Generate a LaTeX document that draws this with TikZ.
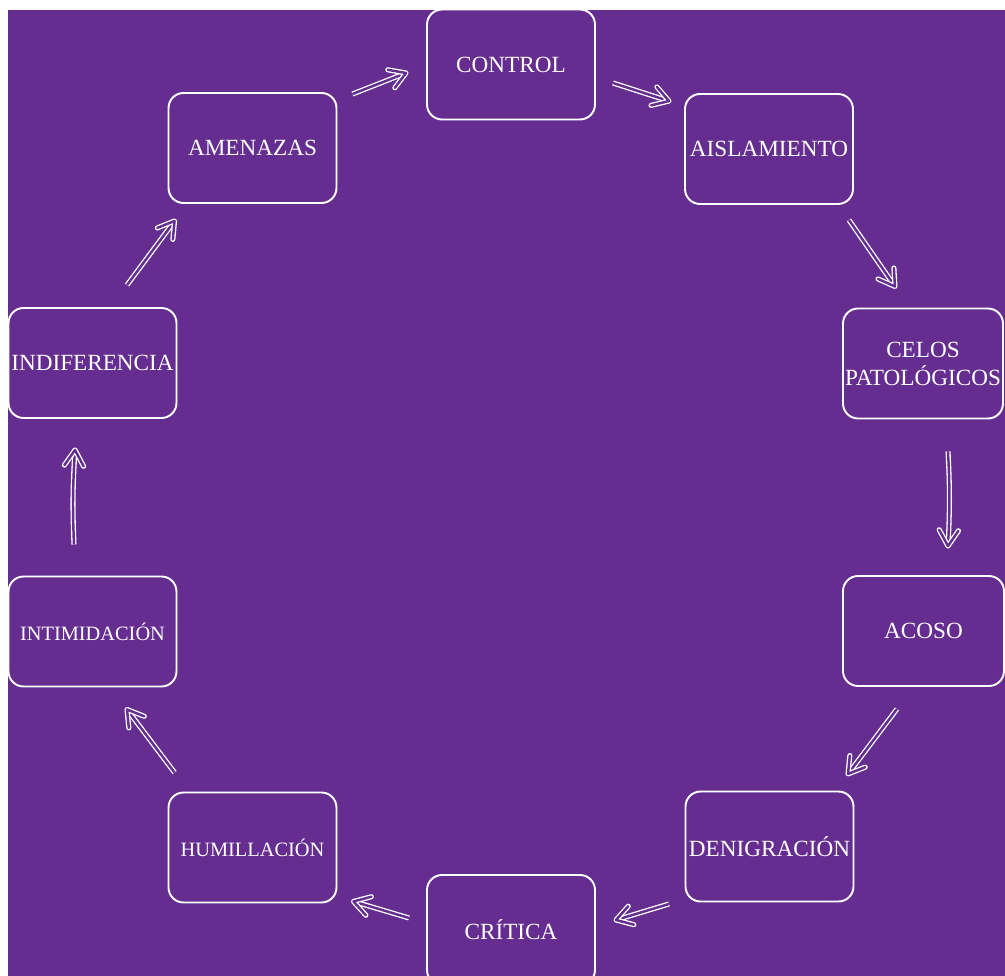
\documentclass[tikz,border=0pt]{standalone}
\usepackage{fontspec}
\setmainfont{Liberation Serif}
\usetikzlibrary{decorations.markings}
\definecolor{morado}{HTML}{652D90}
\begin{document}
\begin{tikzpicture}[x=0.02cm, y=-0.02cm,
		etapa/.style={draw=white, line width=1.1pt, rounded corners=0.3cm,
			minimum width=3.36cm, minimum height=2.2cm, inner sep=0pt,
			text depth=0pt, text=white, align=center,
			font=\fontsize{13.2}{16}\selectfont},
		chica/.style={font=\fontsize{11.6}{14}\selectfont},
		doble/.style={draw=white, double=morado, line width=0.75pt,
			double distance=1.4pt},
		flecha/.style={doble, postaction={decorate},
			decoration={markings, mark=at position 1 with
				{\draw[doble, line join=round, line cap=round]
					(-9pt, 5.5pt) -- (0pt, 0pt) -- (-9pt, -5.5pt);}}}]
		\useasboundingbox (0, 0) rectangle (1005, 976);
		\fill[white] (0, 0) rectangle (1005, 976);
		\fill[morado] (8, 10) rectangle (1005, 976);
		% the ring of stages
		\node[etapa] (control) at (511, 64.5) {CONTROL};
		\node[etapa] (amenazas) at (252.5, 148) {AMENAZAS};
		\node[etapa] (aislamiento) at (769, 149) {AISLAMIENTO};
		\node[etapa, minimum width=3.2cm] (celos) at (923, 363.5) {CELOS\\PATOLÓGICOS};
		\node[etapa, minimum width=3.22cm] (acoso) at (923.5, 631) {ACOSO};
		\node[etapa] (denigracion) at (769.5, 846.5) {DENIGRACIÓN};
		\node[etapa] (critica) at (511, 930) {CRÍTICA};
		\node[etapa, chica] (humillacion) at (252.5, 847.5) {HUMILLACIÓN};
		\node[etapa, chica] (intimidacion) at (92.5, 631.5) {INTIMIDACIÓN};
		\node[etapa] (indiferencia) at (92.5, 363) {INDIFERENCIA};
		% arrows between them
		\draw[flecha] ([shift={(15,2)}]amenazas.north east) -- ([shift={(-20,8.5)}]control.west);
		\draw[flecha] ([shift={(17,18.5)}]control.east) -- ([shift={(-15,8)}]aislamiento.north west);
		\draw[flecha] ([shift={(-5,15)}]aislamiento.south east) -- ([shift={(-28,-21)}]celos.north);
		\draw[flecha] ([shift={(25,32)}]celos.south) to[bend left=3] ([shift={(24.5,-29)}]acoso.north);
		\draw[flecha] ([shift={(-26.5,22)}]acoso.south) -- ([shift={(-6.5,-16.5)}]denigracion.north east);
		\draw[flecha] ([shift={(-15.5,1.5)}]denigracion.south west) -- ([shift={(20,-10)}]critica.east);
		\draw[flecha] ([shift={(-17,-12)}]critica.west) -- ([shift={(16,-2)}]humillacion.south east);
		\draw[flecha] ([shift={(7,-19)}]humillacion.north west) -- ([shift={(34.5,22)}]intimidacion.south);
		\draw[flecha] ([shift={(-18.5,-31)}]intimidacion.north) to[bend left=3] ([shift={(-17.5,31)}]indiferencia.south);
		\draw[flecha] ([shift={(34.5,-22)}]indiferencia.north) -- ([shift={(7,17)}]amenazas.south west);
	\end{tikzpicture}
\end{document}
